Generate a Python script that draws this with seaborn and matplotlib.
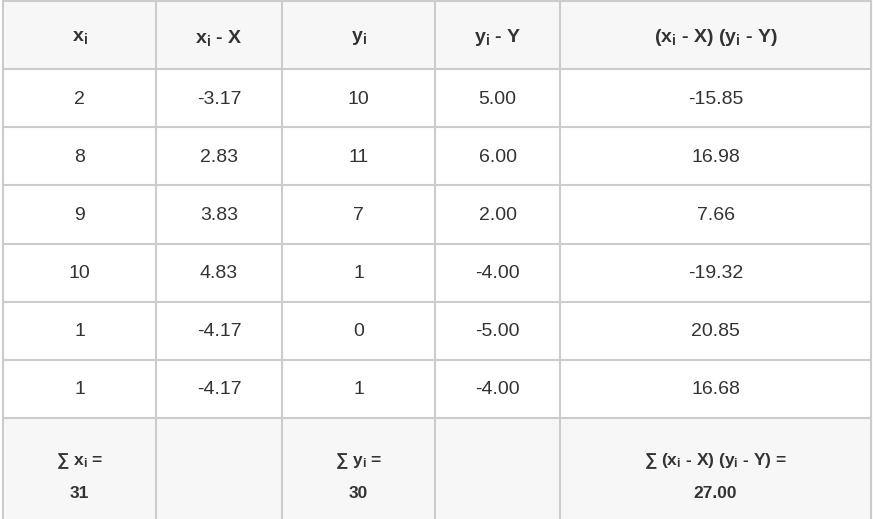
import matplotlib
matplotlib.use("Agg")
import matplotlib.pyplot as plt
import seaborn as sns

sns.set_theme(style="white")
plt.rcParams['font.family'] = ['Liberation Sans', 'DejaVu Sans']
plt.rcParams['mathtext.fontset'] = 'custom'
plt.rcParams['mathtext.rm'] = 'Liberation Sans'
plt.rcParams['mathtext.it'] = 'Liberation Sans'
plt.rcParams['mathtext.bf'] = 'Liberation Sans:bold'

headers = [r"$\mathbf{x_i}$", r"$\mathbf{x_i}$ - X", r"$\mathbf{y_i}$", r"$\mathbf{y_i}$ - Y",
           r"($\mathbf{x_i}$ - X) ($\mathbf{y_i}$ - Y)"]
xi = ["2", "8", "9", "10", "1", "1"]
xi_dev = ["-3.17", "2.83", "3.83", "4.83", "-4.17", "-4.17"]
yi = ["10", "11", "7", "1", "0", "1"]
yi_dev = ["5.00", "6.00", "2.00", "-4.00", "-5.00", "-4.00"]
prod = ["-15.85", "16.98", "7.66", "-19.32", "20.85", "16.68"]
footer1 = [r"∑ $\mathbf{x_i}$ =", "", r"∑ $\mathbf{y_i}$ =", "", r"∑ ($\mathbf{x_i}$ - X) ($\mathbf{y_i}$ - Y) ="]
footer2 = ["31", "", "30", "", "27.00"]

W, H = 873, 519
fig = plt.figure(figsize=(W / 100, H / 100), dpi=100)
ax = fig.add_axes([0, 0, 1, 1])
ax.set_xlim(0, W)
ax.set_ylim(H, 0)
ax.axis("off")

cols = [3, 156, 282, 435, 560, 871]
header_bottom = 69
row_h = (418 - 69) / 6
rows = [header_bottom + i * row_h for i in range(7)]
foot_top = rows[-1]
line_c = "#cccccc"
txt_c = "#333333"

ax.add_patch(plt.Rectangle((cols[0], 0), cols[-1] - cols[0], header_bottom, color="#f7f7f7", zorder=0))
ax.add_patch(plt.Rectangle((cols[0], foot_top), cols[-1] - cols[0], H - foot_top, color="#f7f7f7", zorder=0))

for x in cols:
    ax.plot([x, x], [0, H], color=line_c, lw=1.5, zorder=1)
for y in [1] + rows:
    ax.plot([cols[0], cols[-1]], [y, y], color=line_c, lw=1.5, zorder=1)

centers = [(cols[i] + cols[i + 1]) / 2 for i in range(5)]
for c, h in zip(centers, headers):
    ax.text(c, 38, h, ha="center", va="center", fontsize=14, fontweight="bold", color=txt_c)

cols_data = [xi, xi_dev, yi, yi_dev, prod]
for j, col in enumerate(cols_data):
    for i, v in enumerate(col):
        ax.text(centers[j], (rows[i] + rows[i + 1]) / 2 + 1, v, ha="center", va="center",
                fontsize=14, color=txt_c)

for c, a, b in zip(centers, footer1, footer2):
    if a:
        ax.text(c, 461, a, ha="center", va="center", fontsize=12.5, fontweight="bold", color=txt_c)
        ax.text(c, 494, b, ha="center", va="center", fontsize=12.5, fontweight="bold", color=txt_c)

fig.savefig("out.png", dpi=100)
